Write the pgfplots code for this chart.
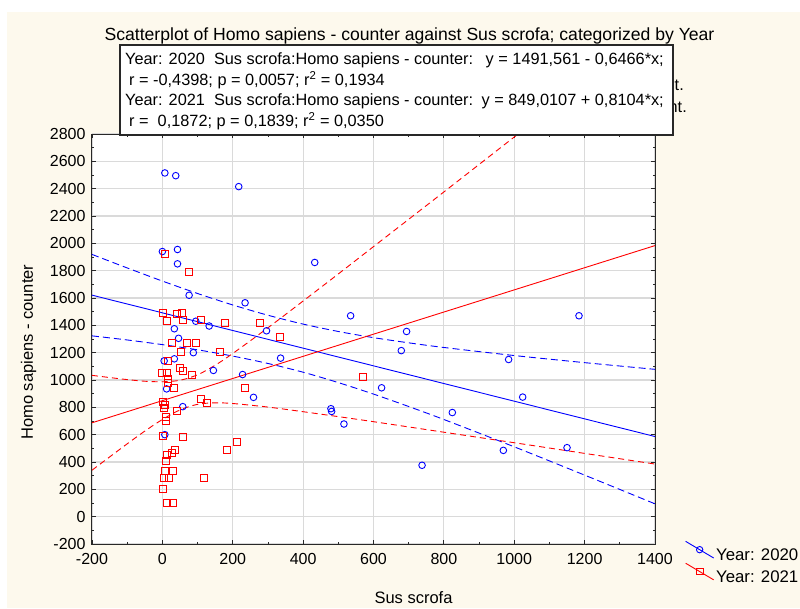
\documentclass[border=0pt]{standalone}
\usepackage{fontspec}
\setmainfont{Liberation Sans}
\usepackage{pgfplots}
\pgfplotsset{compat=1.18}
\definecolor{cream}{RGB}{253,249,237}
\definecolor{gridgray}{RGB}{218,218,218}
\definecolor{axisgray}{RGB}{40,40,40}
\pgfplotsset{diaglegend/.style={legend image code/.code={\draw[##1,mark repeat=2,mark phase=2] plot coordinates {(0pt,14.3pt) (14pt,6pt) (28pt,-2.3pt)};}}}
\begin{document}
\begin{tikzpicture}[x=1pt,y=1pt]
\begin{scope}[shift={(-92,-64)}]
\fill[cream] (7.5,0) rectangle (800,596.3);
\end{scope}
\begin{axis}[
  scale only axis,
  width=563pt, height=410pt,
  xmin=-200, xmax=1400, ymin=-200, ymax=2800,
  xtick distance=200, ytick distance=200,
  minor x tick num=1, minor y tick num=1,
  grid=major,
  major grid style={draw=gridgray, line width=1.1pt},
  axis line style={draw=axisgray, line width=1pt},
  tick style={axisgray, line width=0.8pt},
  major tick length=4pt, minor tick length=2.5pt,
  axis background/.style={fill=white},
  tick label style={font=\fontsize{16}{18}\selectfont},
  /pgf/number format/assume math mode=true,
  /pgf/number format/1000 sep={},
  xticklabel style={yshift=-6pt},
  yticklabel style={xshift=-3pt},
  xlabel={Sus scrofa},
  ylabel={Homo sapiens - counter},
  label style={font=\fontsize{16.5}{19}\selectfont},
  xlabel style={at={(axis description cs:0.5711,-0.1439)}, anchor=base},
  ylabel style={at={(axis description cs:-0.1048,0.468)}, anchor=base},
  legend style={at={(axis description cs:1.0533,0.008)}, anchor=north west,
    draw=none, fill=none, inner sep=0pt, row sep=-1.5pt,
    font=\fontsize{16.8}{19}\selectfont},
  legend cell align=left,
]
\addlegendimage{blue, line width=0.9pt, mark=o, mark size=3.2pt, diaglegend}
\addlegendentry{Year: 2020}
\addlegendimage{red, line width=0.9pt, mark=square, mark size=3.4pt, diaglegend}
\addlegendentry{Year: 2021}

% confidence bands 2020
\addplot[blue, line width=0.9pt, dash pattern=on 7pt off 4pt, smooth, forget plot] coordinates {
(-200,1919) (-100,1820) (0,1724) (100,1633) (200,1549) (300,1474) (400,1409) (500,1355) (600,1310) (700,1272) (800,1238) (1000,1179) (1200,1127) (1400,1078)};
\addplot[blue, line width=0.9pt, dash pattern=on 7pt off 4pt, smooth, forget plot] coordinates {
(-200,1323) (-100,1293) (0,1259) (100,1221) (200,1175) (300,1121) (400,1057) (500,981) (600,897) (700,806) (800,711) (1000,511) (1200,304) (1400,94)};
% confidence bands 2021
\addplot[red, line width=0.9pt, dash pattern=on 6pt off 4pt, smooth, forget plot] coordinates {
(-200,1034) (-150,1018) (-100,1003) (-50,991) (0,987) (50,998) (100,1038) (150,1108) (200,1194) (300,1382) (400,1578) (500,1776) (600,1976) (800,2376) (1000,2778) (1200,3180) (1400,3582)};
\addplot[red, line width=0.9pt, dash pattern=on 6pt off 4pt, smooth, forget plot] coordinates {
(-200,340) (-150,437) (-100,533) (-50,626) (0,711) (50,781) (100,822) (150,833) (200,828) (300,802) (400,768) (500,732) (600,695) (800,618) (1000,541) (1200,463) (1400,385)};
% regression lines
\addplot[blue, line width=0.9pt, forget plot] coordinates {(-200,1620.9) (1400,586.3)};
\addplot[red, line width=0.9pt, forget plot] coordinates {(-200,686.9) (1400,1983.6)};

% data 2020
\addplot[only marks, blue, mark=o, mark size=3.3pt, mark options={line width=0.9pt}, forget plot] coordinates {
(7,2515) (38,2495) (217,2415) (0,1940) (43,1955) (43,1850) (433,1860) (76,1620)
(235,1565) (95,1430) (133,1395) (296,1360) (34,1375) (46,1305) (88,1200) (34,1155)
(5,1140) (145,1070) (228,1040) (336,1160) (12,935) (259,873) (58,805) (7,600)
(479,790) (481,770) (535,1470) (694,1355) (1184,1470) (679,1215) (984,1150) (623,943)
(1024,875) (516,678) (824,762) (969,485) (1150,505) (738,376)};
% data 2021
\addplot[only marks, red, mark=square, mark size=3.5pt, mark options={line width=0.9pt}, forget plot] coordinates {
(7,1920) (76,1790) (1,1490) (12,1430) (42,1483) (55,1490) (58,1439) (110,1441)
(178,1415) (278,1415) (334,1317) (27,1268) (69,1268) (95,1268) (54,1205) (164,1205)
(16,1140) (0,1055) (12,1055) (49,1090) (58,1065) (84,1040) (16,1005) (16,975)
(33,945) (235,945) (3,840) (7,815) (5,795) (110,860) (126,835) (42,776)
(10,730) (10,700) (3,590) (58,581) (213,545) (183,488) (35,488) (27,466)
(12,450) (10,405) (29,336) (8,332) (5,283) (20,283) (118,283) (1,200)
(14,100) (29,100) (569,1025)};
\end{axis}
\begin{scope}[shift={(-92,-64)}]
% title
\node[anchor=base, font=\fontsize{17.6}{20}\selectfont, inner sep=0pt] at (409.5,567) {Scatterplot of Homo sapiens - counter against Sus scrofa; categorized by Year};
% partly hidden text behind the box
\node[anchor=base east, font=\fontsize{16.3}{19}\selectfont, inner sep=0pt] at (684,517) {int.};
\node[anchor=base east, font=\fontsize{16.3}{19}\selectfont, inner sep=0pt] at (687,495.3) {int.};
% statistics box
\filldraw[fill=white, draw=axisgray, line width=1.2pt] (120,473) rectangle (673,563);
\begin{scope}[every node/.style={inner sep=0pt, font=\fontsize{16.3}{19}\selectfont}]
\node[anchor=base west] at (125,543.5) {Year: 2020\ \ Sus scrofa:Homo sapiens - counter:};
\node[anchor=base east] at (664,543.5) {y = 1491,561 - 0,6466*x;};
\node[anchor=base west] at (129,522) {r = -0,4398; p = 0,0057; r\textsuperscript{2} = 0,1934};
\node[anchor=base west] at (125,502) {Year: 2021\ \ Sus scrofa:Homo sapiens - counter:};
\node[anchor=base east] at (664,502) {y = 849,0107 + 0,8104*x;};
\node[anchor=base west] at (129,481) {r = \ 0,1872; p = 0,1839; r\textsuperscript{2} = 0,0350};
\end{scope}
\end{scope}
\pgfresetboundingbox
\path[use as bounding box] (-92,-64) rectangle (708,544);
\end{tikzpicture}
\end{document}
